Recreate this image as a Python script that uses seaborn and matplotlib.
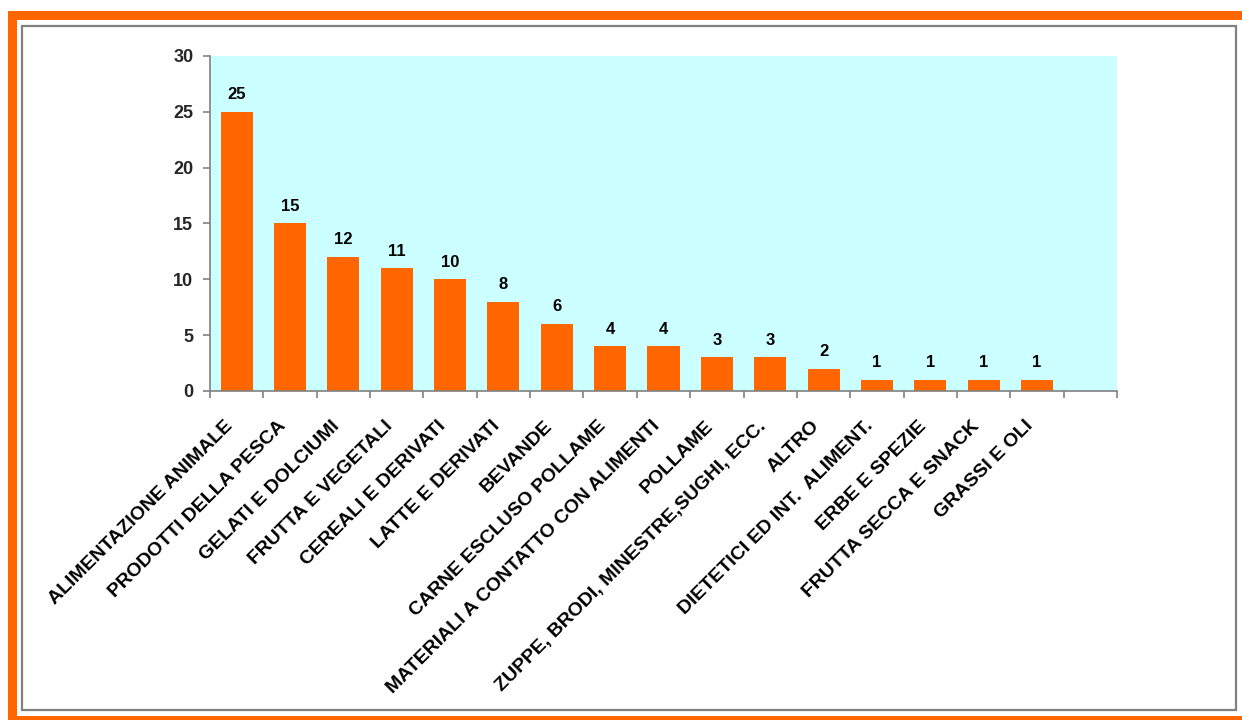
import matplotlib
matplotlib.use("Agg")
import matplotlib.pyplot as plt
import matplotlib.patches as mpatches
import matplotlib.transforms as mtransforms
import numpy as np
import pandas as pd
import seaborn as sns

# Product categories and number of notifications
categories = [
    "ALIMENTAZIONE ANIMALE",
    "PRODOTTI DELLA PESCA",
    "GELATI E DOLCIUMI",
    "FRUTTA E VEGETALI",
    "CEREALI E DERIVATI",
    "LATTE E DERIVATI",
    "BEVANDE",
    "CARNE ESCLUSO POLLAME",
    "MATERIALI A CONTATTO CON ALIMENTI",
    "POLLAME",
    "ZUPPE, BRODI, MINESTRE,SUGHI, ECC.",
    "ALTRO",
    "DIETETICI ED INT.  ALIMENT.",
    "ERBE E SPEZIE",
    "FRUTTA SECCA E SNACK",
    "GRASSI E OLI",
]
values = [25, 15, 12, 11, 10, 8, 6, 4, 4, 3, 3, 2, 1, 1, 1, 1]
y_ticks = [0, 5, 10, 15, 20, 25, 30]

ORANGE = "#FF6600"
GREY = "#808080"

sns.set_style("white")
plt.rcParams["font.family"] = ["Liberation Sans", "DejaVu Sans"]
plt.rcParams["font.weight"] = "bold"

W, H = 1242, 720
fig = plt.figure(figsize=(W / 100, H / 100), dpi=100)
fig.patch.set_facecolor("white")

def px_rect(x0, y0, x1, y1, **kw):
    """Rectangle given in pixel coordinates from the top-left corner."""
    return mpatches.Rectangle((x0 / W, 1 - y1 / H), (x1 - x0) / W, (y1 - y0) / H,
                              transform=fig.transFigure, figure=fig, **kw)

# Orange frame and grey inner box
fig.patches.append(px_rect(8, 11, W, 20, facecolor=ORANGE, edgecolor="none"))
fig.patches.append(px_rect(8, 11, 17, H, facecolor=ORANGE, edgecolor="none"))
fig.patches.append(px_rect(8, 716, W, H, facecolor=ORANGE, edgecolor="none"))
fig.patches.append(px_rect(22, 26, 1236, 710, facecolor="none", edgecolor=GREY, linewidth=1.6))

ax = fig.add_axes([210 / W, 1 - 391 / H, 907 / W, 335 / H])
ax.set_facecolor("#CCFFFF")

df = pd.DataFrame({"categoria": categories, "valore": values})
sns.barplot(data=df, x="categoria", y="valore", color=ORANGE, saturation=1,
            width=0.6, linewidth=0, ax=ax)

n = len(categories)
ax.set_xlim(-0.5, n + 0.5)
ax.set_ylim(0, 30)
ax.set_xlabel("")
ax.set_ylabel("")

for side in ("top", "right"):
    ax.spines[side].set_visible(False)
for side in ("left", "bottom"):
    ax.spines[side].set_color(GREY)
    ax.spines[side].set_linewidth(1.2)

# Y axis
ax.set_yticks(y_ticks)
ax.set_yticklabels([str(t) for t in y_ticks], fontsize=13, fontweight="bold")
ax.tick_params(axis="y", which="major", direction="out", length=5, width=1.2,
               color=GREY, pad=7, left=True)

# X axis: ticks on slot boundaries, labels drawn separately
ax.set_xticks(np.arange(-0.5, n + 1, 1.0))
ax.set_xticklabels([])
ax.tick_params(axis="x", which="major", direction="out", length=5, width=1.2,
               color=GREY, bottom=True)

label_tf = mtransforms.offset_copy(ax.get_xaxis_transform(), fig=fig,
                                   x=-9, y=-19, units="points")
for i, cat in enumerate(categories):
    ax.text(i, 0, cat, transform=label_tf, rotation=45, rotation_mode="anchor",
            ha="right", va="top", fontsize=14, fontweight="bold", color="black")

# Value labels above the bars
for i, v in enumerate(values):
    ax.annotate(str(v), xy=(i, v), xytext=(0, 9), textcoords="offset points",
                ha="center", va="baseline", fontsize=12, fontweight="bold",
                color="black")

fig.savefig("out.png", dpi=100, facecolor="white")
